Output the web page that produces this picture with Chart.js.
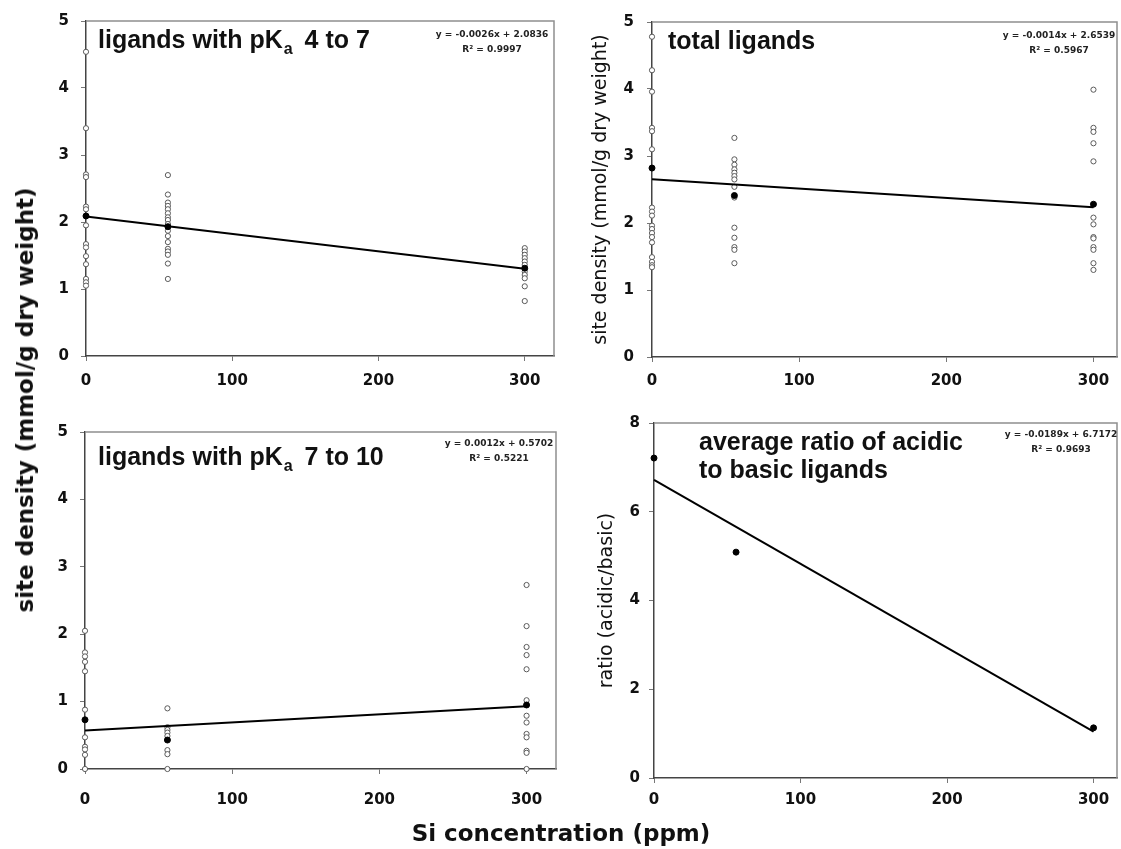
<!DOCTYPE html>
<html>
<head>
<meta charset="utf-8">
<script src="https://cdn.jsdelivr.net/npm/chart.js@4.4.0/dist/chart.umd.min.js"></script>
<style>
  html,body{margin:0;padding:0;background:#fff;}
  #wrap{position:relative;width:1121px;height:849px;overflow:hidden;}
  canvas{position:absolute;}
  .lab{position:absolute;white-space:nowrap;color:#111;font-family:'DejaVu Sans',Verdana,sans-serif;font-weight:bold;}
</style>
</head>
<body>
<div id="wrap">
  <canvas id="c1" width="560" height="400" style="left:0;top:0"></canvas>
  <canvas id="c2" width="561" height="400" style="left:560px;top:0"></canvas>
  <canvas id="c3" width="560" height="449" style="left:0;top:400px"></canvas>
  <canvas id="c4" width="561" height="449" style="left:560px;top:400px"></canvas>
  <div class="lab" id="ylab" style="left:25px;top:400px;font-size:23px;transform:translate(-50%,-50%) rotate(-90deg);">site density (mmol/g dry weight)</div>
  <div class="lab" id="xlab" style="left:561px;top:833px;font-size:23px;transform:translate(-50%,-50%);">Si concentration (ppm)</div>
</div>
<script>
// ---------------- data ----------------
const siLevels = [0, 56, 300];          // Si concentration (ppm)
const trendX = [0, 300];

// ligands with pKa 4 to 7
const pka47_si0   = [4.54, 3.40, 2.71, 2.67, 2.23, 2.19, 1.95, 1.67, 1.62, 1.49, 1.37, 1.15, 1.10, 1.05];
const pka47_si56  = [2.70, 2.41, 2.29, 2.24, 2.19, 2.13, 2.07, 2.03, 1.97, 1.87, 1.79, 1.70, 1.60, 1.56, 1.51, 1.38, 1.15];
const pka47_si300 = [1.61, 1.56, 1.51, 1.46, 1.41, 1.36, 1.26, 1.21, 1.16, 1.04, 0.82];
const pka47_mean  = [2.09, 1.93, 1.31];
const pka47_trend = [2.0836, 1.3036];
const pka47_eq    = ['y = -0.0026x + 2.0836', 'R\u00B2 = 0.9997'];

// total ligands
const total_si0   = [4.78, 4.28, 3.96, 3.42, 3.37, 3.10, 2.23, 2.17, 2.11, 1.96, 1.91, 1.85, 1.79, 1.71, 1.49, 1.42, 1.37, 1.34];
const total_si56  = [3.27, 2.95, 2.87, 2.80, 2.75, 2.70, 2.65, 2.54, 2.38, 1.93, 1.78, 1.64, 1.60, 1.40];
const total_si300 = [3.99, 3.42, 3.36, 3.19, 2.92, 2.08, 1.98, 1.79, 1.77, 1.64, 1.60, 1.40, 1.30];
const total_mean  = [2.82, 2.41, 2.28];
const total_trend = [2.6539, 2.2339];
const total_eq    = ['y = -0.0014x + 2.6539', 'R\u00B2 = 0.5967'];

// ligands with pKa 7 to 10
const pka710_si0   = [2.05, 1.73, 1.67, 1.59, 1.45, 0.88, 0.47, 0.33, 0.29, 0.21, 0.00];
const pka710_si56  = [0.90, 0.62, 0.58, 0.54, 0.49, 0.28, 0.22, 0.00];
const pka710_si300 = [2.73, 2.12, 1.81, 1.69, 1.48, 1.02, 0.79, 0.69, 0.52, 0.47, 0.27, 0.24, 0.00];
const pka710_mean  = [0.73, 0.43, 0.95];
const pka710_trend = [0.5702, 0.9302];
const pka710_eq    = ['y = 0.0012x + 0.5702', 'R\u00B2 = 0.5221'];

// average ratio of acidic to basic ligands
const ratio_mean  = [7.21, 5.09, 1.13];
const ratio_trend = [6.7172, 1.0472];
const ratio_eq    = ['y = -0.0189x + 6.7172', 'R\u00B2 = 0.9693'];

const xTicks = [0, 100, 200, 300];

// ---------------- helpers ----------------
const TFONT = "'Liberation Sans', Arial, sans-serif";
const VFONT = "'DejaVu Sans', Verdana, sans-serif";

function pts(xs, ys) { return xs.map((x, i) => ({x: x, y: ys[i]})); }
function samples(groups) {
  const out = [];
  groups.forEach((g, i) => g.forEach(v => out.push({x: siLevels[i], y: v})));
  return out;
}

const annot = {
  id: 'annot',
  beforeDatasetsDraw(chart) {
    const {ctx, chartArea: a} = chart;
    ctx.save();
    ctx.strokeStyle = '#8f8f8f';
    ctx.lineWidth = 1.5;
    ctx.beginPath();
    ctx.moveTo(a.left, a.top);
    ctx.lineTo(a.right, a.top);
    ctx.lineTo(a.right, a.bottom);
    ctx.stroke();
    ctx.restore();
  },
  afterDraw(chart, args, o) {
    const {ctx, chartArea: a} = chart;
    ctx.save();
    ctx.fillStyle = '#111';
    ctx.textBaseline = 'alphabetic';
    ctx.textAlign = 'left';
    (o.lines || []).forEach(line => {
      let x = a.left + line.dx;
      const y = a.top + line.dy;
      line.segs.forEach(seg => {
        ctx.font = seg.sub ? 'bold 16px ' + TFONT : 'bold 25px ' + TFONT;
        if (seg.sub) x += 1;
        ctx.fillText(seg.t, x, y + (seg.sub ? 6 : 0));
        x += ctx.measureText(seg.t).width + (seg.sub ? 5 : 0);
      });
    });
    if (o.eq) {
      ctx.font = 'bold 9px ' + VFONT;
      ctx.textAlign = 'center';
      ctx.textBaseline = 'middle';
      ctx.fillStyle = '#222';
      ctx.fillText(o.eq[0], a.right - o.eqdx, a.top + o.eqdy);
      ctx.fillText(o.eq[1], a.right - o.eqdx, a.top + o.eqdy + 15);
    }
    ctx.restore();
  }
};

function makeChart(id, c) {
  const datasets = [
    {label: 'mean', data: pts(siLevels, c.mean), pointRadius: 3, pointHoverRadius: 3,
     pointBackgroundColor: '#000', pointBorderColor: '#000', pointBorderWidth: 1, order: 0, clip: false},
    {label: 'trend', data: pts(trendX, c.trend), showLine: true, borderColor: '#000', borderWidth: 2,
     pointRadius: 0, order: 1, clip: false}
  ];
  if (c.samples) {
    datasets.push({label: 'samples', data: samples(c.samples), pointRadius: 2.6, pointHoverRadius: 2.6,
      pointBackgroundColor: '#fff', pointBorderColor: '#5a5a5a', pointBorderWidth: 1, order: 2, clip: false});
  }
  const tickFont = {family: VFONT, size: 15, weight: 'bold'};
  return new Chart(document.getElementById(id), {
    type: 'scatter',
    data: {datasets: datasets},
    options: {
      responsive: false, animation: false, devicePixelRatio: 1,
      layout: {padding: c.pad},
      plugins: {legend: {display: false}, tooltip: {enabled: false}, annot: c.annot},
      scales: {
        x: {
          type: 'linear', min: 0, max: c.xmax,
          afterFit(s) { s.height = c.xh; },
          afterBuildTicks(s) { s.ticks = xTicks.map(v => ({value: v})); },
          ticks: {font: tickFont, color: '#111', padding: c.xpad, maxRotation: 0},
          grid: {display: true, drawOnChartArea: false, drawTicks: true, tickLength: 5, color: '#777'},
          border: {display: true, color: '#444', width: 1.5}
        },
        y: {
          type: 'linear', min: 0, max: c.ymax,
          afterFit(s) { s.width = c.yw; },
          ticks: {font: tickFont, color: '#111', padding: c.ypad, stepSize: c.ystep},
          grid: {display: true, drawOnChartArea: false, drawTicks: true, tickLength: 5, color: '#777'},
          border: {display: true, color: '#444', width: 1.5},
          title: c.ytitle ? {display: true, text: c.ytitle, color: '#111',
            font: {family: VFONT, size: 19, weight: 'normal'}, padding: {top: c.ytpad, bottom: 0}} : {display: false}
        }
      }
    },
    plugins: [annot]
  });
}

makeChart('c1', {
  samples: [pka47_si0, pka47_si56, pka47_si300], mean: pka47_mean, trend: pka47_trend,
  pad: {left: 0, top: 18, right: 6, bottom: 0}, xh: 44, yw: 86, xmax: 320, ymax: 5, ystep: 1,
  xpad: 11, ypad: 12,
  annot: {lines: [{dx: 12, dy: 27, segs: [{t: 'ligands with pK'}, {t: 'a', sub: true}, {t: ' 4 to 7'}]}],
          eq: pka47_eq, eqdx: 62, eqdy: 14}
});

makeChart('c2', {
  samples: [total_si0, total_si56, total_si300], mean: total_mean, trend: total_trend,
  pad: {left: 0, top: 18, right: 2, bottom: 0}, xh: 43, yw: 92, xmax: 316, ymax: 5, ystep: 1,
  xpad: 10, ypad: 13, ytitle: 'site density (mmol/g dry weight)', ytpad: 30,
  annot: {lines: [{dx: 16, dy: 27, segs: [{t: 'total ligands'}]}],
          eq: total_eq, eqdx: 58, eqdy: 14}
});

makeChart('c3', {
  samples: [pka710_si0, pka710_si56, pka710_si300], mean: pka710_mean, trend: pka710_trend,
  pad: {left: 0, top: 32, right: 4, bottom: 0}, xh: 80, yw: 85, xmax: 320, ymax: 5, ystep: 1,
  xpad: 17, ypad: 12,
  annot: {lines: [{dx: 13, dy: 33, segs: [{t: 'ligands with pK'}, {t: 'a', sub: true}, {t: ' 7 to 10'}]}],
          eq: pka710_eq, eqdx: 57, eqdy: 12}
});

makeChart('c4', {
  samples: null, mean: ratio_mean, trend: ratio_trend,
  pad: {left: 0, top: 23, right: 2, bottom: 0}, xh: 71, yw: 94, xmax: 316, ymax: 8, ystep: 2,
  xpad: 8, ypad: 9, ytitle: 'ratio (acidic/basic)', ytpad: 36,
  annot: {lines: [{dx: 45, dy: 27, segs: [{t: 'average ratio of acidic'}]},
                  {dx: 45, dy: 55, segs: [{t: 'to basic ligands'}]}],
          eq: ratio_eq, eqdx: 56, eqdy: 12}
});
</script>
</body>
</html>
